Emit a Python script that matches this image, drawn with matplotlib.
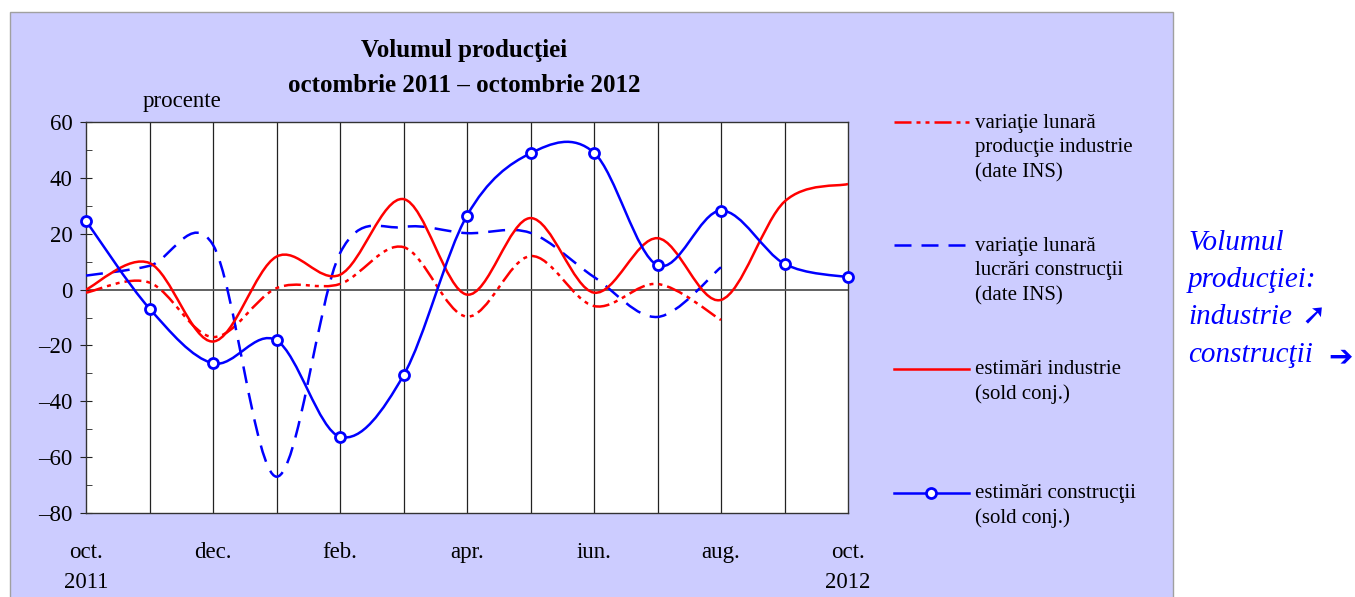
import matplotlib
matplotlib.use("Agg")
import matplotlib.pyplot as plt
from matplotlib.path import Path
from matplotlib.patches import PathPatch, Rectangle
from matplotlib.lines import Line2D

# luni: oct. 2011 ... oct. 2012
luni = ["oct.\n2011", "", "dec.", "", "feb.", "", "apr.", "", "iun.", "", "aug.", "", "oct.\n2012"]
x_luni = list(range(13))

# variatie lunara productie industrie (date INS), pana in aug.
ind_ins = [-1.1, 2.5, -17, 0.5, 2, 15.2, -9.7, 12, -5.9, 2, -10.9]
# variatie lunara lucrari constructii (date INS), pana in aug.
constr_ins = [5, 8.5, 16, -67, 13, 22.4, 20.2, 20.3, 4.5, -9.8, 8]
# estimari industrie (sold conj.)
ind_est = [0, 9.5, -18.6, 11.8, 5.3, 32.4, -1.8, 25.6, -1.1, 18.4, -3.7, 31.5, 37.8]
# estimari constructii (sold conj.)
constr_est = [24.6, -6.8, -26.4, -18.2, -52.7, -30.7, 26.5, 48.8, 49, 8.7, 28.3, 9.2, 4.4]

y_ticks = [60, 40, 20, 0, -20, -40, -60, -80]
y_labels = ["60", "40", "20", "0", "\u201320", "\u201340", "\u201360", "\u201380"]

ROSU = "#FF0000"
ALBASTRU = "#0000FF"
FUNDAL = "#CCCCFF"
SERIF = ["Liberation Serif", "DejaVu Serif"]
LW = 1.8


def curba(ax, ys, **kw):
    # curba netezita ca in Excel (Bezier prin punctele lunare)
    xs = x_luni[:len(ys)]
    pts = list(zip(xs, ys))
    n = len(pts)
    verts = [pts[0]]
    codes = [Path.MOVETO]
    for i in range(n - 1):
        p0 = pts[max(i - 1, 0)]
        p1 = pts[i]
        p2 = pts[i + 1]
        p3 = pts[min(i + 2, n - 1)]
        c1 = (p1[0] + (p2[0] - p0[0]) / 6, p1[1] + (p2[1] - p0[1]) / 6)
        c2 = (p2[0] - (p3[0] - p1[0]) / 6, p2[1] - (p3[1] - p1[1]) / 6)
        verts += [c1, c2, p2]
        codes += [Path.CURVE4] * 3
    ax.add_patch(PathPatch(Path(verts, codes), fill=False, capstyle="butt", **kw))


fig = plt.figure(figsize=(13.55, 5.97), dpi=100)
fig.patch.set_facecolor("white")
fig.add_artist(Rectangle((10 / 1355, -0.01), 1163 / 1355, 1 - 12 / 597 + 0.01,
                         transform=fig.transFigure, facecolor=FUNDAL,
                         edgecolor="#A0A0A0", lw=1, zorder=0))

ax = fig.add_axes([86 / 1355, 1 - 513 / 597, 762 / 1355, 391 / 597])
ax.set_facecolor("white")
ax.set_xlim(0, 12)
ax.set_ylim(-80, 60)

for x in x_luni[1:-1]:
    ax.axvline(x, color="#222222", lw=0.9, zorder=1)
ax.axhline(0, color="#555555", lw=1.3, zorder=1)

dash_ind = (0, (6.8, 2.0, 1.6, 2.0, 1.6, 2.0))
dash_constr = (0, (6.8, 4.0))

curba(ax, ind_ins, edgecolor=ROSU, lw=LW, linestyle=dash_ind, zorder=3)
curba(ax, constr_ins, edgecolor=ALBASTRU, lw=LW, linestyle=dash_constr, zorder=3)
curba(ax, ind_est, edgecolor=ROSU, lw=LW, zorder=4)
curba(ax, constr_est, edgecolor=ALBASTRU, lw=LW, zorder=5)
ax.plot(x_luni, constr_est, linestyle="none", marker="o", ms=7.2, mfc="white",
        mec=ALBASTRU, mew=2, zorder=6, clip_on=False)

ax.set_yticks(y_ticks)
ax.set_yticklabels(y_labels, family=SERIF, fontsize=16.5)
ax.set_yticks(range(-70, 60, 20), minor=True)
ax.tick_params(axis="y", which="major", direction="inout", length=9, pad=5, color="#222222")
ax.tick_params(axis="y", which="minor", direction="in", length=4.5, color="#222222")
ax.set_xticks(x_luni)
ax.set_xticklabels(luni, family=SERIF, fontsize=16.5, linespacing=1.55, va="top")
ax.tick_params(axis="x", length=0, pad=21)
for s in ax.spines.values():
    s.set_color("#333333")
    s.set_linewidth(1)

fig.text(464 / 1355, 1 - 51 / 597, "Volumul producţiei", ha="center", va="center",
         family=SERIF, fontsize=18, fontweight="bold")
fig.text(464 / 1355, 1 - 86 / 597, "octombrie 2011 \u2013 octombrie 2012", ha="center",
         va="center", family=SERIF, fontsize=18, fontweight="bold")
fig.text(182 / 1355, 1 - 101 / 597, "procente", ha="center", va="center",
         family=SERIF, fontsize=16.5)

# legenda
intrari = [
    (122, dict(color=ROSU, ls=dash_ind), "variaţie lunară\nproducţie industrie\n(date INS)"),
    (245, dict(color=ALBASTRU, ls=dash_constr), "variaţie lunară\nlucrări construcţii\n(date INS)"),
    (369, dict(color=ROSU, ls="-"), "estimări industrie\n(sold conj.)"),
    (493, dict(color=ALBASTRU, ls="-", marker="o", ms=7.2, mfc="white", mew=2,
               markevery=[1], mec=ALBASTRU), "estimări construcţii\n(sold conj.)"),
]
for y, stil, text in intrari:
    yf = 1 - y / 597
    fig.add_artist(Line2D([894 / 1355, 931 / 1355, 969 / 1355], [yf, yf, yf],
                          transform=fig.transFigure, lw=LW, **stil))
    nr = text.count("\n")
    fig.text(975 / 1355, 1 - (y + 13 * nr) / 597, text, ha="left", va="center",
             family=SERIF, fontsize=15, linespacing=1.4)

# comentariu din dreapta
randuri = [(243, "Volumul"), (280, "producţiei:"), (317, "industrie"), (355, "construcţii")]
for y, text in randuri:
    fig.text(1188 / 1355, 1 - y / 597, text, ha="left", va="center", color=ALBASTRU,
             style="italic", fontsize=21, family=SERIF)
fig.text(1314 / 1355, 1 - 316 / 597, "\u279a", ha="center", va="center",
         color=ALBASTRU, fontsize=21, family="DejaVu Sans", fontweight="bold")
fig.text(1341 / 1355, 1 - 357 / 597, "\u2794", ha="center", va="center",
         color=ALBASTRU, fontsize=21, family="DejaVu Sans", fontweight="bold")

fig.savefig("out.png", dpi=100)
